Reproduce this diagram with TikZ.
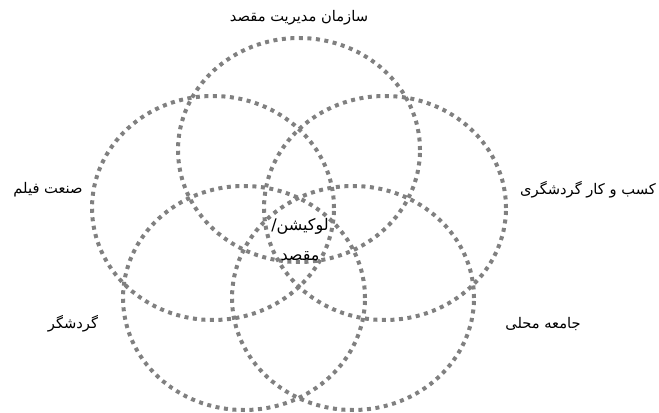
\documentclass[tikz,border=0pt]{standalone}
\usepackage{fontspec}
\usepackage{xcolor}
\usepackage{tikz}
\usetikzlibrary{positioning,shapes.geometric}
\TeXXeTstate=1
\newfontfamily\arabicfont[Script=Arabic]{DejaVu Sans}
\definecolor{gris}{HTML}{808080}

\begin{document}
\begin{tikzpicture}[
  x=0.75pt, y=-0.75pt,
  anillo/.style={ellipse, draw=gris, line width=3pt, dash pattern=on 3pt off 3.4pt,
    minimum width=181.5pt, minimum height=168pt, inner sep=0pt},
  etiq/.style={font=\arabicfont\fontsize{11}{14}\selectfont, inner sep=1pt, align=center}
]
  \useasboundingbox (0,0) rectangle (659,413);

  % los cinco anillos
  \node[anillo] (org) at (299,150) {};
  \node[anillo] (film) at (213,208) {};
  \node[anillo] (biz) at (385,208) {};
  \node[anillo] (turista) at (244,298) {};
  \node[anillo] (comunidad) at (353,298) {};

  % etiquetas
  \node[etiq] (torg) at (299,18) {\beginR سازمان مدیریت مقصد\endR};
  \node[etiq] (tfilm) at (48,190) {\beginR صنعت فیلم\endR};
  \node[etiq] (tbiz) at (588,190) {\beginR کسب و کار گردشگری\endR};
  \node[etiq] (tturista) at (73,324) {\beginR گردشگر\endR};
  \node[etiq] (tcomunidad) at (543,324) {\beginR جامعه محلی\endR};
  \node[etiq, font=\arabicfont\fontsize{12}{14.4}\selectfont] (centro) at (300,240)
    {\beginR لوکیشن/\endR\\[8pt]\beginR مقصد\endR};
\end{tikzpicture}
\end{document}
